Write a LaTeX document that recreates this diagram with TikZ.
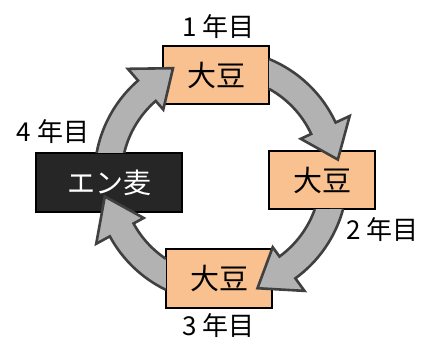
\documentclass[tikz,border=0pt]{standalone}
\usepackage{fontspec}
\setmainfont{Noto Sans CJK JP}
\definecolor{soy}{HTML}{F9C18F}
\definecolor{oat}{HTML}{262626}
\definecolor{ringfill}{HTML}{B2B2B2}
\definecolor{ringline}{HTML}{404040}
\tikzset{
    cropbox/.style={draw=black, line width=1.5pt, fill=soy, minimum width=106pt, minimum height=58pt, inner sep=0pt, font=\fontsize{29}{29}\selectfont},
    oatbox/.style={cropbox, fill=oat, text=white, minimum width=146pt, minimum height=59pt, font=\fontsize{28}{28}\selectfont},
    yearlabel/.style={inner sep=0pt, font=\fontsize{26}{26}\selectfont},
    ringarrow/.style={fill=ringfill, draw=ringline, line width=2.6pt, line join=miter},
}
\newcommand\ringarrow[4]{%
    \filldraw[ringarrow] (#1:126.5pt) arc[start angle=#1, end angle=#3, radius=126.5pt]
        -- (#3:142pt) -- (#4:118pt) -- (#3:88pt) -- (#3:99.5pt)
        arc[start angle=#3, end angle=#2, radius=99.5pt];}
\begin{document}
\begin{tikzpicture}[x=1pt, y=1pt]
    \useasboundingbox (0,0) rectangle (422,338);
    \coordinate (hub) at (221,162);
    \node[cropbox] (soy1) at (216,263) {大豆};
    \node[cropbox] (soy2) at (322,158) {大豆};
    \node[cropbox, minimum height=59pt] (soy3) at (219,59.5) {大豆};
    \node[oatbox] (oat4) at (109,155.5) {エン麦};
    \begin{scope}[shift={(hub)}]
        \ringarrow{169.5}{166.6}{131}{114}
        \ringarrow{67.7}{61.2}{25}{8}
        \ringarrow{-15.1}{-19.4}{-54}{-72}
        \ringarrow{244.2}{236.4}{208.5}{190}
    \end{scope}
    \node[yearlabel] (year1) at (218.5,311.5) {1 年目};
    \node[yearlabel] (year2) at (382.5,108.5) {2 年目};
    \node[yearlabel] (year3) at (218.5,12.5) {3 年目};
    \node[yearlabel] (year4) at (53,206.5) {4 年目};
\end{tikzpicture}
\end{document}
